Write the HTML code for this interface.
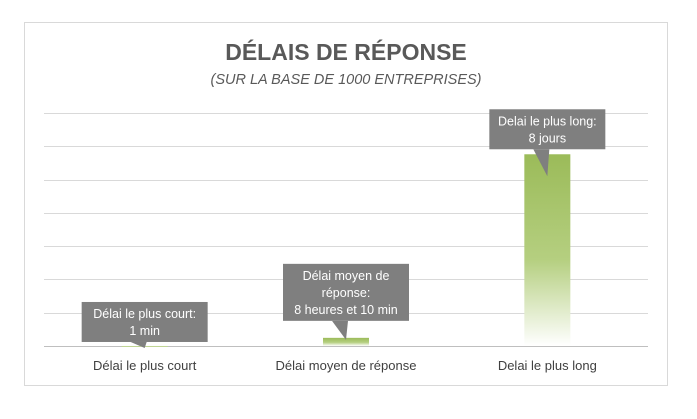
<!DOCTYPE html>
<html><head><meta charset="utf-8"><style>
body{margin:0;background:#fff;font-family:"Liberation Sans",sans-serif}
</style></head><body>
<svg width="697" height="414" xmlns="http://www.w3.org/2000/svg">
<defs><linearGradient id="g" x1="0" y1="0" x2="0" y2="1">
<stop offset="0" stop-color="#9bbb59"/><stop offset="0.55" stop-color="#b5cf80"/><stop offset="1" stop-color="#ffffff"/></linearGradient></defs>
<rect x="24.5" y="22.5" width="643" height="363" fill="#fff" stroke="#d9d9d9"/>
<text x="346" y="60" text-anchor="middle" font-size="23" font-weight="bold" fill="#595959">DÉLAIS DE RÉPONSE</text>
<text x="346" y="84" text-anchor="middle" font-size="14.5" font-style="italic" fill="#595959">(SUR LA BASE DE 1000 ENTREPRISES)</text>
<g id="grid"></g><g id="bars"></g><g id="labels"></g>
</svg>
<script>
const categories=["Délai le plus court","Délai moyen de réponse","Delai le plus long"];
const values=[1,490,11520];
const callouts=[["Délai le plus court:","1 min"],["Délai moyen de","réponse:","8 heures et 10 min"],["Delai le plus long:","8 jours"]];
const yMax=14000, gridCount=7;
const NS="http://www.w3.org/2000/svg";
const x0=44,x1=648,yTop=113,yBase=346;
const bw=(x1-x0)/categories.length;
const xc=i=>x0+bw*(i+0.5);
const y=v=>yBase-(v/yMax)*(yBase-yTop);
function mk(t,a,p){const e=document.createElementNS(NS,t);for(const k in a)e.setAttribute(k,a[k]);p.appendChild(e);return e;}
const grid=document.getElementById('grid');
for(let i=0;i<=gridCount;i++){const gy=Math.round(y(yMax*i/gridCount))+0.5;
const l=mk('line',{x1:x0,x2:x1,y1:gy,y2:gy,stroke:i==0?'#bfbfbf':'#d9d9d9'},grid);

}
const bars=document.getElementById('bars'),labels=document.getElementById('labels');
values.forEach((v,i)=>{
const top=y(v),cx=xc(i);
const r=mk('rect',{x:cx-23,y:top,width:46,height:Math.max(yBase-top,1),fill:'url(#g)'},bars);


const t=mk('text',{x:cx,y:370,'text-anchor':'middle','font-size':13,fill:'#404040'},labels);
t.textContent=categories[i];


const lines=callouts[i];const bh=lines.length*17+6;const bwid=i==2?116:126;
const by=top-(i==2?5:i==1?17:4)-bh;
const g=mk('g',{},labels);


const tipx=cx,tipy=i==2?top+22:top+2;
mk('path',{d:`M${cx-14} ${by+bh} L${tipx} ${tipy} L${cx+2} ${by+bh} Z`,fill:'#7f7f7f'},g);
mk('rect',{x:cx-bwid/2,y:by,width:bwid,height:bh,fill:'#7f7f7f'},g);
lines.forEach((s,k)=>{const tt=mk('text',{x:cx,y:by+16+k*17,'text-anchor':'middle','font-size':12.5,fill:'#fff'},g);tt.textContent=s;});
});
</script>
</body></html>
